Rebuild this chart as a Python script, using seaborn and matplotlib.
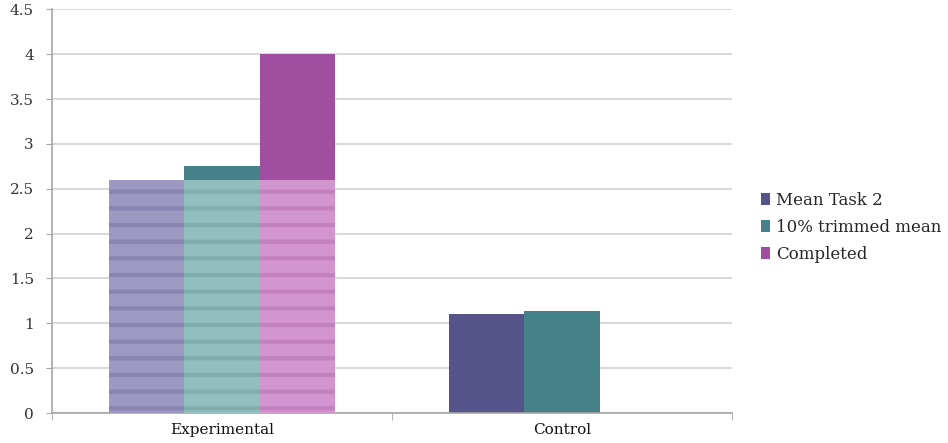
import matplotlib
matplotlib.use("Agg")
import matplotlib.pyplot as plt
from matplotlib.patches import Patch
import seaborn as sns
import pandas as pd

# values
groups = ['Experimental', 'Control']
series = ['Mean Task 2', '10% trimmed mean', 'Completed']
mean_task2 = [2.6, 1.1]
trimmed_mean = [2.75, 1.14]
completed = [4.0, None]
# faded, striped band over the Experimental bars in the source image
band_height = [2.6, 2.6, 2.6]

colors = ['#56528A', '#46818A', '#A04EA0']
band_colors = ['#9D99C2', '#93BEBE', '#D395CF']
band_stripes = ['#8984B2', '#80AEAE', '#C281BE']

rows = []
for name, vals in zip(series, [mean_task2, trimmed_mean, completed]):
    for g, v in zip(groups, vals):
        rows.append({'Group': g, 'Series': name, 'Value': v})
df = pd.DataFrame(rows).dropna()

band = pd.DataFrame({'Group': ['Experimental'] * 3, 'Series': series, 'Value': band_height})

sns.set_style('white')
plt.rcParams['font.family'] = ['DejaVu Serif']
plt.rcParams['hatch.linewidth'] = 3

fig = plt.figure(figsize=(9.48, 4.43), dpi=100)
ax = fig.add_axes([0.0549, 0.0677, 0.7173, 0.9109])

sns.barplot(data=df, x='Group', y='Value', hue='Series', order=groups,
            hue_order=series, palette=colors, width=0.665, gap=0,
            saturation=1, legend=False, ax=ax, zorder=2, linewidth=0)
n_main = len(ax.patches)

sns.barplot(data=band, x='Group', y='Value', hue='Series', order=groups,
            hue_order=series, palette=band_colors, width=0.665, gap=0,
            saturation=1, legend=False, ax=ax, zorder=3, linewidth=0)
band_rgba = [matplotlib.colors.to_rgba(c) for c in band_colors]
for p in ax.patches[n_main:]:
    idx = band_rgba.index(tuple(p.get_facecolor()))
    p.set_hatch('-')
    p.set_edgecolor(band_stripes[idx])
    p.set_linewidth(0)

ax.set_ylim(0, 4.5)
ax.set_xlim(-0.5, 1.5)
ax.set_yticks([0, 0.5, 1, 1.5, 2, 2.5, 3, 3.5, 4, 4.5])
ax.set_yticklabels(['0', '0.5', '1', '1.5', '2', '2.5', '3', '3.5', '4', '4.5'])
ax.yaxis.grid(True, color='#D9D9D9', linewidth=1.5, zorder=0)
ax.set_axisbelow(True)
ax.set_xlabel('')
ax.set_ylabel('')

for side in ['top', 'right']:
    ax.spines[side].set_visible(False)
for side in ['left', 'bottom']:
    ax.spines[side].set_color('#A6A6A6')
    ax.spines[side].set_linewidth(1.2)

ax.tick_params(axis='y', length=4, color='#A6A6A6', labelsize=11, pad=9,
               labelcolor='#333333', left=True)
ax.tick_params(axis='x', length=0, labelsize=11, pad=7.5, labelcolor='#111111')
ax.set_xticks([-0.5, 0.5, 1.5], minor=True)
ax.tick_params(axis='x', which='minor', length=5, color='#A6A6A6', bottom=True)

handles = [Patch(facecolor=c, edgecolor='none') for c in colors]
ax.legend(handles, series, loc='center left', bbox_to_anchor=(1.02, 0.46),
          frameon=False, fontsize=12, handlelength=0.55, handleheight=0.7,
          handletextpad=0.4, labelspacing=0.6)

fig.savefig('out.png', dpi=100)
